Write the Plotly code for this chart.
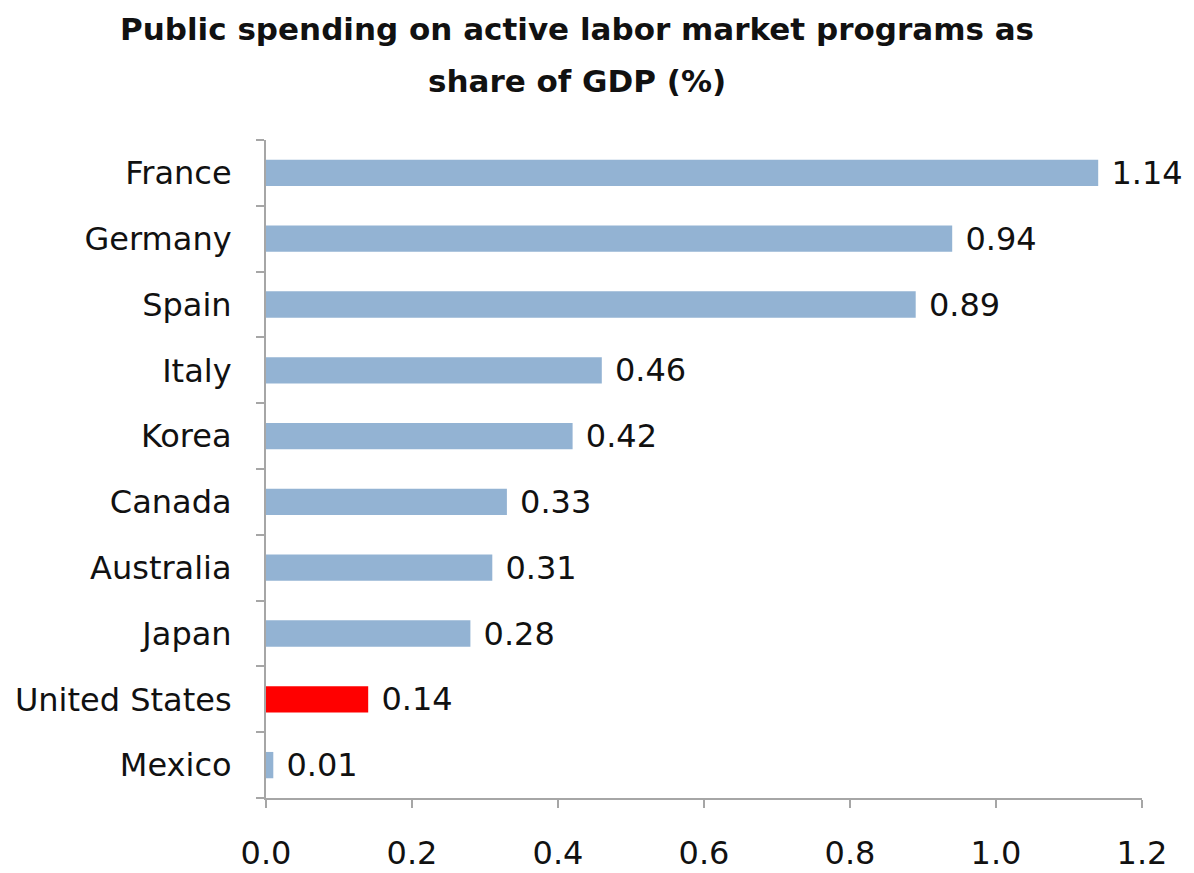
import plotly.graph_objects as go

countries = ["France", "Germany", "Spain", "Italy", "Korea", "Canada",
             "Australia", "Japan", "United States", "Mexico"]
values = [1.14, 0.94, 0.89, 0.46, 0.42, 0.33, 0.31, 0.28, 0.14, 0.01]
highlight = "United States"

x_ticks = [0.0, 0.2, 0.4, 0.6, 0.8, 1.0, 1.2]
x_tick_text = ["0.0", "0.2", "0.4", "0.6", "0.8", "1.0", "1.2"]

title_lines = ["Public spending on active labor market programs as",
               "share of GDP (%)"]

BLUE = "#93B3D3"
RED = "#FF0000"
AXIS = "#A6A6A6"
INK = "#111111"
FONT = "DejaVu Sans, sans-serif"

colors = [RED if c == highlight else BLUE for c in countries]

fig = go.Figure(
    go.Bar(
        x=values,
        y=countries,
        orientation="h",
        marker=dict(color=colors, line=dict(width=0)),
        text=[f" {v:.2f}" for v in values],
        textposition="outside",
        constraintext="none",
        textfont=dict(family=FONT, size=32, color=INK),
        cliponaxis=False,
    )
)

# two-line bold title, placed as separate annotations for wider line spacing
title_y = [1.168, 1.090]
annotations = [
    dict(text=f"<b>{line}</b>", x=0.355, y=y, xref="paper", yref="paper",
         xanchor="center", yanchor="middle", showarrow=False,
         font=dict(family=FONT, size=31, color=INK))
    for line, y in zip(title_lines, title_y)
]

fig.update_layout(
    width=1194,
    height=873,
    paper_bgcolor="white",
    plot_bgcolor="white",
    margin=dict(l=266, r=52, t=140, b=75),
    bargap=0.6,
    showlegend=False,
    font=dict(family=FONT, color=INK),
    annotations=annotations,
)

fig.update_xaxes(
    range=[0, 1.2],
    tickvals=x_ticks,
    ticktext=x_tick_text,
    showgrid=False,
    zeroline=False,
    showline=True,
    linecolor=AXIS,
    linewidth=2,
    ticks="outside",
    ticklen=8,
    tickwidth=2,
    tickcolor=AXIS,
    ticklabelstandoff=18,
    automargin=False,
    tickfont=dict(family=FONT, size=32, color=INK),
)

fig.update_yaxes(
    categoryorder="array",
    categoryarray=countries[::-1],
    showgrid=False,
    zeroline=False,
    showline=True,
    linecolor=AXIS,
    linewidth=2,
    ticks="outside",
    tickson="boundaries",
    ticklen=8,
    tickwidth=2,
    tickcolor=AXIS,
    ticklabelstandoff=26,
    automargin=False,
    tickfont=dict(family=FONT, size=32, color=INK),
)

fig.write_html("out.html")
